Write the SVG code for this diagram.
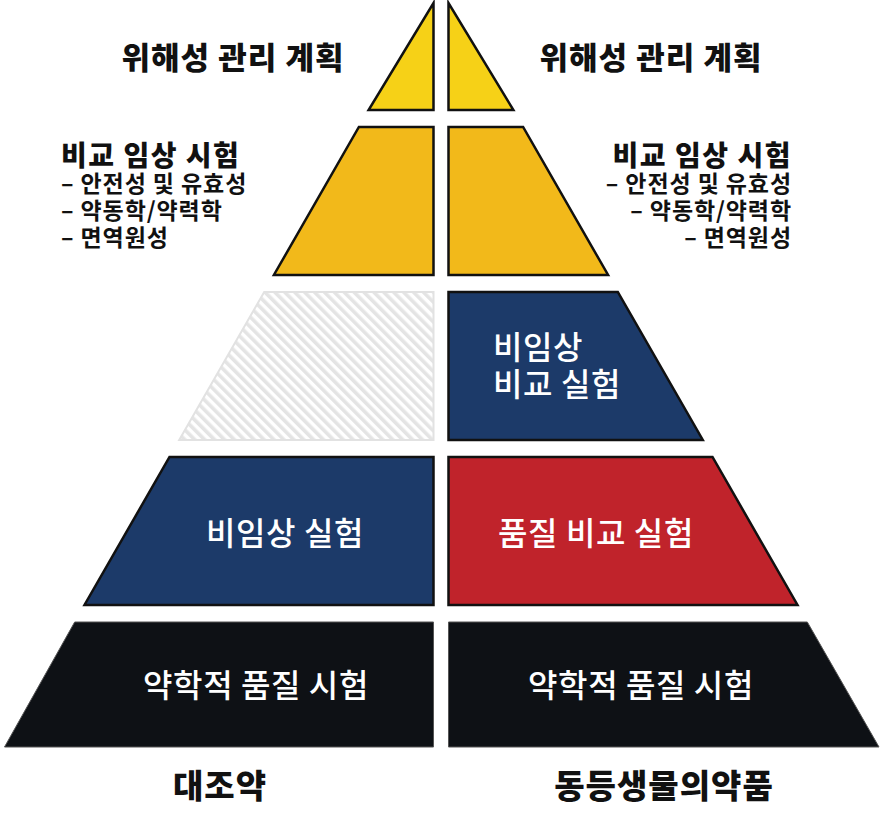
<svg xmlns="http://www.w3.org/2000/svg" width="882" height="827" viewBox="0 0 882 827">
<defs>
<pattern id="hatch" patternUnits="userSpaceOnUse" width="7" height="7" patternTransform="rotate(-45)">
<rect x="0" y="0" width="3.6" height="7" fill="#e4e4e4"/>
</pattern>
<style>
.k{font-family:"Noto Sans CJK KR","Noto Sans",sans-serif}
.h1{font-size:31px;font-weight:900;fill:#111;letter-spacing:1px}
.h2{font-size:28px;font-weight:900;fill:#111;letter-spacing:1.5px}
.sub{font-size:23px;font-weight:700;fill:#111;letter-spacing:0.9px}
.b{font-size:33px;font-weight:900;fill:#111;letter-spacing:1px}
.w{font-size:32px;font-weight:500;fill:#fff;letter-spacing:0.6px}
.ol{stroke:#111;stroke-width:2.5;stroke-linejoin:miter}
</style>
</defs>
<rect width="882" height="827" fill="#fff"/>
<g id="left-tier1"><polygon class="ol" fill="#F6D117" points="433.5,3 433.5,110 368.6,110"/></g>
<g id="right-tier1"><polygon class="ol" fill="#F6D117" points="448.5,3 448.5,110 513.4,110"/></g>
<g id="left-tier2"><polygon class="ol" fill="#F2B91A" points="358.9,127 433.5,127 433.5,275 273.9,275"/></g>
<g id="right-tier2"><polygon class="ol" fill="#F2B91A" points="448.5,127 523.1,127 608.1,275 448.5,275"/></g>
<g id="left-tier3"><polygon fill="url(#hatch)" stroke="#e2e2e2" stroke-width="2" points="264.2,292 433.5,292 433.5,440 179.2,440"/></g>
<g id="right-tier3"><polygon class="ol" fill="#1C3A69" points="448.5,292 617.8,292 702.8,440 448.5,440"/>
<text class="k w" x="493" y="359">비임상</text><text class="k w" x="493" y="396">비교 실험</text></g>
<g id="left-tier4"><polygon class="ol" fill="#1C3A69" points="169.5,457 433.5,457 433.5,605 84.5,605"/>
<text class="k w" x="285" y="545" text-anchor="middle">비임상 실험</text></g>
<g id="right-tier4"><polygon class="ol" fill="#C0232B" points="448.5,457 712.5,457 797.5,605 448.5,605"/>
<text class="k w" x="596" y="545" text-anchor="middle">품질 비교 실험</text></g>
<g id="left-tier5"><polygon fill="#0E1115" stroke="#555" stroke-width="1" points="74.7,622 433.5,622 433.5,747 4.5,747"/>
<text class="k w" x="256" y="697" text-anchor="middle">약학적 품질 시험</text></g>
<g id="right-tier5"><polygon fill="#0E1115" stroke="#555" stroke-width="1" points="448.5,622 807.3,622 879,747 448.5,747"/>
<text class="k w" x="641" y="697" text-anchor="middle">약학적 품질 시험</text></g>
<g id="left-labels">
<text class="k h1" x="233" y="69" text-anchor="middle">위해성 관리 계획</text>
<text class="k h2" x="61" y="166">비교 임상 시험</text>
<text class="k sub" x="61" y="192">– 안전성 및 유효성</text>
<text class="k sub" x="61" y="219">– 약동학/약력학</text>
<text class="k sub" x="61" y="246">– 면역원성</text>
<text class="k b" x="220" y="798" text-anchor="middle">대조약</text>
</g>
<g id="right-labels">
<text class="k h1" x="651" y="69" text-anchor="middle">위해성 관리 계획</text>
<text class="k h2" x="792" y="166" text-anchor="end">비교 임상 시험</text>
<text class="k sub" x="792" y="192" text-anchor="end">– 안전성 및 유효성</text>
<text class="k sub" x="792" y="219" text-anchor="end">– 약동학/약력학</text>
<text class="k sub" x="792" y="246" text-anchor="end">– 면역원성</text>
<text class="k b" x="664" y="798" text-anchor="middle">동등생물의약품</text>
</g>
<g id="connectors"></g>
</svg>
